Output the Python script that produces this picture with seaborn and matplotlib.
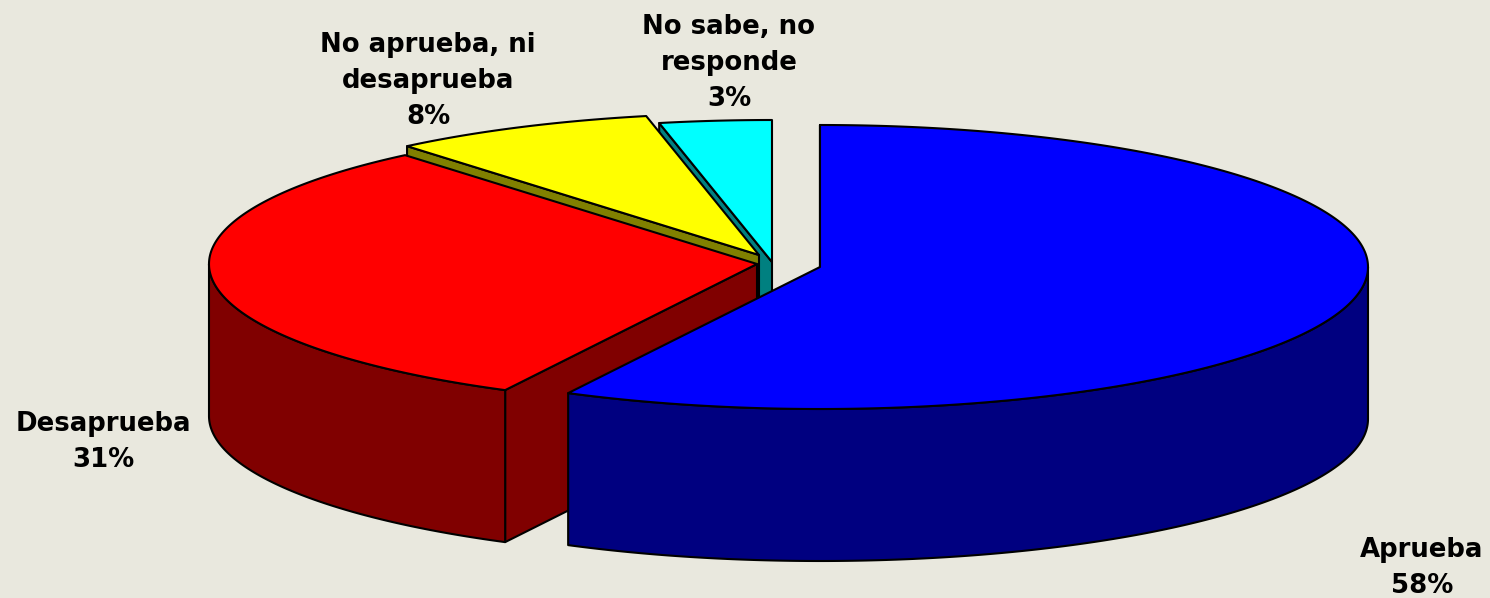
#!/usr/bin/env python3

"""Exploded 3D style pie of approval shares"""

import numpy as np
import pandas as pd
import matplotlib
matplotlib.use('Agg')
import matplotlib.pyplot as plt
import seaborn as sns
from matplotlib.patches import Polygon

categories = ['Aprueba', 'Desaprueba', 'No aprueba, ni\ndesaprueba', 'No sabe, no\nresponde']
shares = [57.6, 31.3, 7.8, 3.3]
top_hex = ['#0000FF', '#FF0000', '#FFFF00', '#00FFFF']
side_hex = ['#000080', '#800000', '#808000', '#008080']

# layout in pixels of the 1490x598 picture
apex_x = [820, 757, 759, 772]
apex_y = [267, 264, 255, 262]
label_x = [1422, 103, 428, 729]
label_y = [568, 442, 81, 63]
RX, RY = 548, 142
DEPTH = 152
BG = '#E9E8DE'
LW = 1.5

sns.set_theme(style='white', rc={'figure.facecolor': BG, 'axes.facecolor': BG})
plt.rcParams['font.family'] = ['DejaVu Sans']


def rim(cx, cy, a0, a1, drop=0):
    """Points on the ellipse between two angles in degrees"""
    n = max(int(abs(a1 - a0)) * 2, 2)
    t = np.radians(np.linspace(a0, a1, n))
    return np.column_stack([cx + RX * np.cos(t), cy - RY * np.sin(t) + drop])


df = pd.DataFrame({'category': categories, 'share': shares,
                   'top': sns.color_palette(top_hex), 'side': sns.color_palette(side_hex),
                   'cx': apex_x, 'cy': apex_y, 'lx': label_x, 'ly': label_y})
# slices run clockwise from 12 o'clock
df['end'] = 90 - df['share'].cumsum() * 3.6
df['start'] = df['end'] + df['share'] * 3.6

fig = plt.figure(figsize=(14.9, 5.98), dpi=100)
ax = fig.add_axes([0, 0, 1, 1])
ax.set_xlim(0, 1490)
ax.set_ylim(598, 0)
ax.axis('off')

# back slices first, blue goes on top of everything
for _, row in df.iloc[::-1].iterrows():
    cx, cy = row['cx'], row['cy']
    style = dict(edgecolor='black', linewidth=LW, joinstyle='round')

    # cut face at the start of the slice
    edge = rim(cx, cy, row['start'], row['start'])[0]
    face = [(cx, cy), edge, edge + (0, DEPTH), (cx, cy + DEPTH)]
    ax.add_patch(Polygon(face, closed=True, facecolor=row['side'], **style))

    # outer wall, only the front half of the ellipse can be seen
    a0 = min(row['start'], 0)
    a1 = max(row['end'], -180)
    if a1 < a0:
        upper = rim(cx, cy, a0, a1)
        lower = rim(cx, cy, a1, a0, DEPTH)
        ax.add_patch(Polygon(np.vstack([upper, lower]), closed=True,
                             facecolor=row['side'], **style))

    # top of the slice
    arc = rim(cx, cy, row['start'], row['end'])
    ax.add_patch(Polygon(np.vstack([[(cx, cy)], arc]), closed=True,
                         facecolor=row['top'], **style))

for _, row in df.iterrows():
    ax.text(row['lx'], row['ly'], f"{row['category']}\n{round(row['share'])}%",
            ha='center', va='center', fontsize=18.7, fontweight='bold',
            linespacing=1.51, color='black')

plt.savefig('out.png', dpi=100, facecolor=BG)
